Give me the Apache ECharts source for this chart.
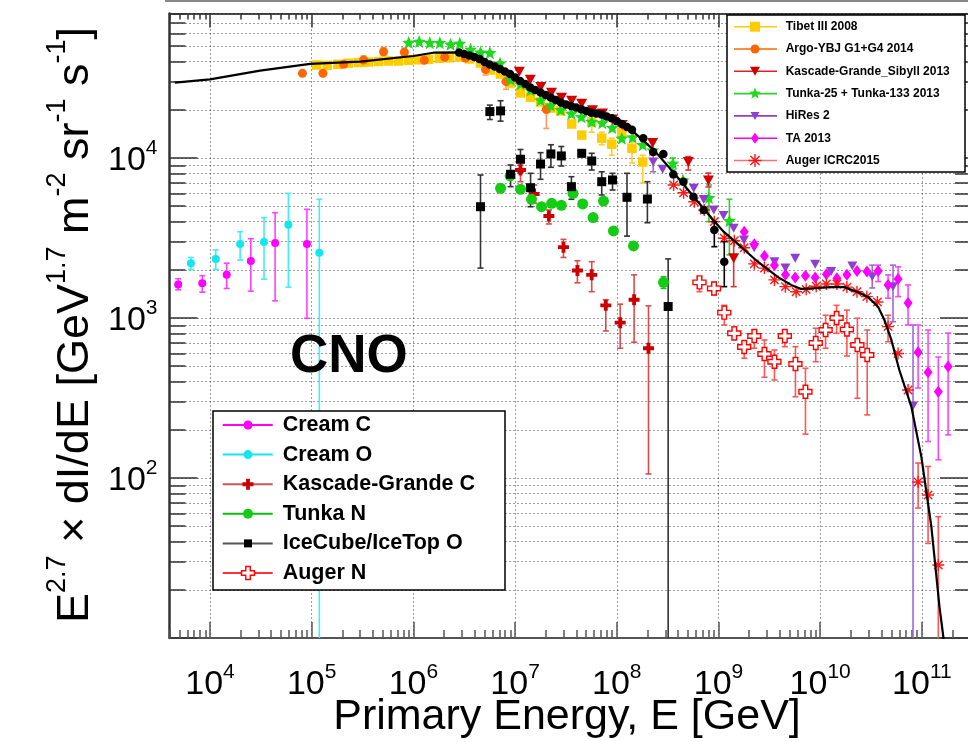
<!DOCTYPE html>
<html>
<head>
<meta charset="utf-8">
<title>CNO spectrum</title>
<script src="https://cdn.jsdelivr.net/npm/echarts@6.0.0/dist/echarts.min.js"></script>
<style>
html,body{margin:0;padding:0;background:#ffffff;}
#chart{width:968px;height:742px;}
</style>
</head>
<body>
<div id="chart"></div>
<script>
// ---------------- DATA: [E (GeV), E^2.7 dI/dE, errLow, errHigh] ----------------
const modelLine = [
  [4.52e3, 2.96e4], [1.0e4, 3.10e4], [3.11e4, 3.52e4], [9.66e4, 3.87e4], [3.0e5, 4.0e4],
  [1.0e6, 4.34e4], [1.57e6, 4.55e4], [2.71e6, 4.57e4], [4.57e6, 4.1e4], [7.2e6, 3.65e4],
  [9.66e6, 3.16e4], [1.33e7, 2.78e4], [1.91e7, 2.48e4], [2.81e7, 2.24e4], [4.42e7, 2.05e4],
  [6.95e7, 1.86e4], [1.02e8, 1.66e4], [1.47e8, 1.45e4], [2.32e8, 1.12e4], [3.65e8, 8.05e3],
  [5.74e8, 5.7e3], [9.04e8, 4.04e3], [1.13e9, 3.45e3], [1.67e9, 2.78e3], [2.45e9, 2.24e3],
  [3.85e9, 1.8e3], [5.18e9, 1.61e3], [6.5e9, 1.52e3], [9.55e9, 1.54e3], [1.28e10, 1.56e3],
  [1.72e10, 1.56e3], [2.37e10, 1.45e3], [2.97e10, 1.35e3], [3.72e10, 1.17e3], [4.28e10, 9.72e2],
  [5.01e10, 7.29e2], [6.0e10, 4.73e2], [7.89e10, 2.78e2], [9.89e10, 1.35e2], [1.24e11, 4.94e1],
  [1.49e11, 1.56e1], [1.63e11, 1.0e1], [1.7e11, 5]
];

const creamC = [
  [4.87e3, 1.62e3, 1.50e3, 1.76e3], [8.4e3, 1.65e3, 1.45e3, 1.84e3], [1.46e4, 1.86e3, 1.53e3, 2.2e3],
  [2.52e4, 2.27e3, 1.47e3, 3.13e3], [4.37e4, 2.94e3, 1.28e3, 4.55e3], [8.98e4, 2.9e3, 9.96e2, 4.78e3]
];

const creamO = [
  [6.5e3, 2.2e3, 2.01e3, 2.39e3], [1.14e4, 2.34e3, 2.01e3, 2.66e3], [1.98e4, 2.9e3, 2.3e3, 3.46e3],
  [3.4e4, 2.99e3, 1.75e3, 4.24e3], [5.9e4, 3.83e3, 1.56e3, 6.01e3], [1.19e5, 2.56e3, 1, 5.52e3]
];

const tibet = [
  [1.12e5, 3.81e4], [1.42e5, 3.79e4], [1.81e5, 3.85e4], [2.29e5, 3.91e4], [2.87e5, 3.95e4],
  [3.6e5, 3.98e4], [4.52e5, 4.01e4], [5.67e5, 4.04e4], [7.11e5, 4.04e4], [8.93e5, 4.08e4],
  [1.12e6, 4.11e4], [1.41e6, 4.14e4], [1.8e6, 4.2e4], [2.26e6, 4.23e4], [2.84e6, 4.28e4],
  [3.56e6, 4.16e4], [4.57e6, 3.92e4], [5.74e6, 3.55e4], [7.2e6, 3.35e4], [9.03e6, 2.94e4],
  [1.13e7, 2.55e4], [1.42e7, 2.4e4], [1.78e7, 2.24e4], [2.24e7, 2.05e4], [2.81e7, 1.97e4],
  [3.6e7, 1.63e4], [4.52e7, 1.39e4], [5.67e7, 1.68e4, 1.45e4, 1.73e4], [7.11e7, 1.33e4, 1.21e4, 1.45e4],
  [8.93e7, 1.22e4, 1.04e4, 1.33e4], [1.12e8, 1.45e4], [1.41e8, 1.15e4, 9.31e3, 1.26e4],
  [1.8e8, 9.44e3, 6.98e3, 1.04e4]
];

const argo = [
  [8.11e4, 3.38e4], [1.29e5, 3.38e4], [2.06e5, 3.85e4], [3.24e5, 4.1e4, 3.76e4, 4.34e4],
  [5.09e5, 4.61e4, 4.36e4, 4.9e4], [8.15e5, 4.58e4, 4.34e4, 4.87e4], [1.28e6, 4.08e4],
  [2.03e6, 4.26e4], [3.25e6, 4.22e4], [5.12e6, 3.57e4, 3.3e4, 3.73e4],
  [8.15e6, 3.0e4, 2.69e4, 3.22e4], [2.03e7, 2.01e4, 1.53e4, 2.11e4]
];

const tunka = [
  [9.0e5, 5.27e4], [1.14e6, 5.35e4], [1.45e6, 5.26e4], [1.82e6, 5.26e4], [2.32e6, 5.14e4],
  [2.86e6, 5.21e4], [3.65e6, 4.78e4], [4.57e6, 4.58e4], [5.65e6, 4.55e4], [7.11e6, 3.91e4],
  [9.03e6, 3.1e4], [1.13e7, 2.9e4], [1.42e7, 2.66e4], [1.78e7, 2.3e4], [2.24e7, 2.14e4],
  [2.81e7, 2.0e4], [3.58e7, 1.9e4], [4.49e7, 1.81e4], [5.67e7, 1.69e4], [7.2e7, 1.66e4],
  [9.03e7, 1.55e4], [1.12e8, 1.33e4], [1.43e8, 1.35e4], [1.8e8, 1.21e4], [2.26e8, 1.12e4],
  [3.56e8, 9.25e3, 8.41e3, 1.0e4], [4.47e8, 7.29e3], [8.05e8, 5.66e3, 4.0e3, 6.78e3],
  [1.28e9, 4.06e3, 2.48e3, 5.52e3]
];

const kgSibyll = [
  [1.1e7, 3.46e4], [1.41e7, 3.08e4], [1.79e7, 2.78e4], [2.28e7, 2.56e4], [2.86e7, 2.38e4],
  [3.6e7, 2.28e4], [4.52e7, 2.18e4], [5.77e7, 1.99e4], [7.23e7, 1.9e4], [9.08e7, 1.74e4],
  [1.13e8, 1.61e4], [2.25e8, 1.24e4], [5.05e8, 9.44e3, 8.41e3, 1.02e4],
  [7.96e8, 7.23e3, 6.59e3, 8.05e3], [1.41e9, 2.36e3, 1.57e3, 3.07e3]
];

const hires = [
  [2.28e8, 9.44e3, 8.2e3, 1.07e4], [2.82e8, 8.49e3], [5.71e8, 6.47e3], [7.15e8, 5.51e3],
  [8.99e8, 4.73e3], [1.12e9, 4.37e3], [1.41e9, 3.64e3], [1.78e9, 3.07e3], [2.24e9, 2.75e3],
  [3.55e9, 2.25e3], [4.55e9, 2.05e3], [5.68e9, 2.36e3], [8.93e9, 2.17e3], [1.28e10, 1.95e3],
  [2.07e10, 2.11e3], [3.25e10, 1.81e3, 1.54e3, 2.14e3], [5.2e10, 1.57e3, 9.48e2, 2.14e3],
  [8.18e10, 2.82e2, 1, 9.04e2]
];

const ta = [
  [1.79e9, 3.46e3], [2.25e9, 2.89e3], [2.83e9, 2.44e3], [3.55e9, 2.14e3], [4.55e9, 1.86e3],
  [5.68e9, 1.79e3], [7.16e9, 1.84e3], [8.93e9, 1.79e3], [1.15e10, 1.88e3], [1.46e10, 1.77e3],
  [1.83e10, 1.86e3], [2.3e10, 1.97e3], [2.88e10, 1.95e3], [3.71e10, 1.97e3, 1.69e3, 2.14e3],
  [4.65e10, 1.61e3, 1.33e3, 1.86e3], [5.83e10, 1.75e3, 1.36e3, 2.09e3],
  [7.31e10, 1.24e3, 9.04e2, 1.61e3], [9.18e10, 6.11e2, 3.65e2, 9.04e2],
  [1.15e11, 4.58e2, 1.69e2, 8.41e2], [1.45e11, 3.46e2, 1.3e2, 5.7e2], [1.81e11, 4.97e2, 1.86e2, 8.05e2]
];

const augerAll = [
  [3.62e8, 6.78e3], [4.54e8, 6.07e3], [5.78e8, 5.33e3], [7.24e8, 4.73e3], [9.1e8, 4.0e3],
  [1.14e9, 3.15e3], [1.43e9, 3.04e3], [1.79e9, 2.75e3], [2.25e9, 2.18e3], [2.83e9, 2.05e3],
  [3.55e9, 1.73e3], [4.55e9, 1.57e3], [5.8e9, 1.46e3], [7.28e9, 1.51e3], [9.14e9, 1.58e3],
  [1.15e10, 1.63e3], [1.46e10, 1.63e3], [1.83e10, 1.56e3], [2.3e10, 1.46e3], [2.88e10, 1.36e3],
  [3.65e10, 1.26e3], [4.65e10, 8.83e2, 7.11e2, 1.04e3], [5.83e10, 6.0e2], [7.31e10, 3.55e2],
  [9.18e10, 9.44e1, 6.49e1, 1.24e2], [1.15e11, 7.83e1, 3.9e1, 1.18e2], [1.45e11, 2.86e1, 1, 5.73e1]
];

const iceAll = [
  [2.82e6, 4.56e4], [3.16e6, 4.47e4], [3.55e6, 4.37e4], [3.98e6, 4.28e4], [4.47e6, 4.16e4],
  [5.01e6, 3.98e4], [5.62e6, 3.84e4], [6.31e6, 3.73e4], [7.08e6, 3.6e4], [7.94e6, 3.47e4],
  [8.91e6, 3.35e4], [1.0e7, 3.18e4], [1.12e7, 3.03e4], [1.26e7, 2.9e4], [1.41e7, 2.76e4],
  [1.58e7, 2.66e4], [1.78e7, 2.57e4], [2.0e7, 2.48e4], [2.24e7, 2.39e4], [2.51e7, 2.3e4],
  [2.82e7, 2.22e4], [3.16e7, 2.16e4], [3.55e7, 2.11e4], [3.98e7, 2.07e4], [4.47e7, 2.02e4],
  [5.01e7, 1.97e4], [5.62e7, 1.92e4], [6.31e7, 1.9e4], [7.08e7, 1.87e4], [7.94e7, 1.82e4],
  [8.91e7, 1.77e4], [1.0e8, 1.7e4], [1.12e8, 1.63e4], [1.26e8, 1.56e4], [1.41e8, 1.5e4],
  [1.82e8, 1.33e4], [2.28e8, 1.09e4], [2.87e8, 1.06e4], [3.6e8, 7.88e3], [4.52e8, 7.11e3],
  [5.67e8, 5.73e3], [7.15e8, 4.73e3], [9.1e8, 3.55e3, 2.79e3, 4.0e3], [1.14e9, 2.25e3, 1.57e3, 3.0e3]
];

const kgC = [
  [1.13e7, 8.41e3, 7.11e3, 9.04e3], [1.54e7, 5.96e3, 5.23e3, 6.78e3], [2.15e7, 4.34e3, 3.87e3, 4.73e3],
  [2.99e7, 2.77e3, 2.39e3, 3.1e3], [4.1e7, 1.98e3, 1.66e3, 2.28e3], [5.67e7, 1.86e3, 1.46e3, 2.25e3],
  [7.8e7, 1.2e3, 8.3e2, 1.3e3], [1.08e8, 9.35e2, 6.47e2, 1.22e3], [1.48e8, 1.3e3, 7.05e2, 1.86e3],
  [2.05e8, 6.47e2, 1.06e2, 1.19e3]
];

const tunkaN = [
  [7.2e6, 6.47e3], [8.93e6, 7.72e3], [1.13e7, 6.37e3], [1.45e7, 5.52e3], [1.82e7, 4.96e3],
  [2.29e7, 5.21e3], [2.85e7, 5.06e3], [3.71e7, 6.01e3], [4.62e7, 5.16e3], [5.85e7, 4.24e3],
  [7.4e7, 5.38e3], [9.27e7, 3.5e3], [1.46e8, 2.82e3], [2.88e8, 1.67e3, 1.53e3, 1.81e3]
];

const iceO = [
  [4.57e6, 4.96e3, 2.05e3, 7.83e3], [5.65e6, 1.95e4, 1.74e4, 2.14e4], [7.2e6, 1.97e4, 1.7e4, 2.28e4],
  [9.03e6, 7.91e3, 6.62e3, 9.04e3], [1.13e7, 9.82e3, 8.09e3, 1.13e4], [1.42e7, 6.52e3, 4.96e3, 8.02e3],
  [1.78e7, 9.17e3, 7.36e3, 1.08e4], [2.25e7, 1.06e4, 8.75e3, 1.21e4], [2.85e7, 1.03e4, 8.91e3, 1.18e4],
  [3.58e7, 6.62e3, 5.52e3, 7.64e3], [4.52e7, 1.07e4, 1.02e4, 1.12e4], [5.67e7, 9.58e3, 8.41e3, 1.07e4],
  [7.11e7, 7.11e3, 5.87e3, 8.2e3], [9.08e7, 7.29e3, 6.31e3, 8.02e3], [1.26e8, 5.68e3, 3.25e3, 8.02e3],
  [2.0e8, 5.54e3, 3.94e3, 7.11e3], [3.2e8, 1.18e3, 1, 2.34e3]
];

const augerN = [
  [6.5e8, 1.67e3, 1.46e3, 1.81e3], [9.04e8, 1.53e3, 1.4e3, 1.67e3], [1.14e9, 1.08e3, 9.04e2, 1.2e3],
  [1.43e9, 8.02e2, 7.3e2, 8.8e2], [1.79e9, 6.59e2, 5.6e2, 7.11e2], [2.25e9, 7.72e2, 6.47e2, 8.41e2],
  [2.83e9, 5.96e2, 4.26e2, 7.29e2], [3.55e9, 5.33e2, 4.1e2, 6.31e2], [4.49e9, 7.72e2, 6.62e2, 8.41e2],
  [5.71e9, 5.16e2, 3.22e2, 6.62e2], [7.16e9, 3.46e2, 1.88e2, 4.85e2], [9.04e9, 6.98e2, 5.33e2, 8.63e2],
  [1.13e10, 8.41e2, 6.47e2, 1.04e3], [1.45e10, 1.0e3, 8.02e2, 1.2e3], [1.83e10, 8.47e2, 5.79e2, 1.12e3],
  [2.32e10, 6.78e2, 3.15e2, 9.96e2], [2.9e10, 5.87e2, 2.48e2, 8.41e2]
];

// tick values
const xMajorTicks = [1e4, 1e5, 1e6, 1e7, 1e8, 1e9, 1e10, 1e11];
const yMajorTicks = [1e1, 1e2, 1e3, 1e4];
const yLabelTicks = [1e2, 1e3, 1e4];
const X_MIN = 4000, X_MAX = 2.84e11, Y_MIN = 10, Y_MAX = 8e4;

// ---------------- STYLE ----------------
const FONT = "'Liberation Sans', Arial, Helvetica, sans-serif";
const PATHS = {
  star: 'M0,-10 L2.6,-3.6 L9.5,-3.1 L4.2,1.4 L5.9,8.1 L0,4.4 L-5.9,8.1 L-4.2,1.4 L-9.5,-3.1 L-2.6,-3.6 Z',
  asterisk: 'M0,-10 L0,10 M-10,0 L10,0 M-7,-7 L7,7 M-7,7 L7,-7',
  cross: 'M-3.5,-10 L3.5,-10 L3.5,-3.5 L10,-3.5 L10,3.5 L3.5,3.5 L3.5,10 L-3.5,10 L-3.5,3.5 L-10,3.5 L-10,-3.5 L-3.5,-3.5 Z'
};
const POLYS = {
  tridown: [[-1, -1], [1, -1], [0, 1]],
  diamond: [[0, -1], [1, 0], [0, 1], [-1, 0]],
  star: [[0, -1], [0.26, -0.36], [0.95, -0.31], [0.42, 0.14], [0.59, 0.81], [0, 0.44], [-0.59, 0.81], [-0.42, 0.14], [-0.95, -0.31], [-0.26, -0.36]],
  cross: [[-0.35, -1], [0.35, -1], [0.35, -0.35], [1, -0.35], [1, 0.35], [0.35, 0.35], [0.35, 1], [-0.35, 1], [-0.35, 0.35], [-1, 0.35], [-1, -0.35], [-0.35, -0.35]]
};

function minorValues(nFrom, nTo, kFrom, lo, hi) {
  const out = [];
  for (let n = nFrom; n <= nTo; n++) {
    for (let k = kFrom; k <= 9; k++) {
      const v = k * Math.pow(10, n);
      if (v >= lo * 0.999 && v <= hi * 1.001) out.push(v);
    }
  }
  return out;
}
const xMinorTicks = minorValues(3, 11, 2, X_MIN, X_MAX);
const yAllTicks = minorValues(1, 4, 1, Y_MIN, Y_MAX);

const SERIES = [
  { name: 'Cream C', data: creamC, sym: 'circle', size: 8, color: '#ff00ff', err: '#ff40ff', ew: 1.6 },
  { name: 'Cream O', data: creamO, sym: 'circle', size: 8, color: '#12e6f0', err: '#40eef5', ew: 1.6 },
  { name: 'Tibet III 2008', data: tibet, sym: 'rect', size: 9.5, color: '#ffcc00', err: '#ffcc33', ew: 1.6 },
  { name: 'Argo-YBJ G1+G4 2014', data: argo, sym: 'circle', size: 9, color: '#ff6600', err: '#ff9966', ew: 1.6 },
  { name: 'Tunka-25 + Tunka-133 2013', data: tunka, sym: 'path://' + PATHS.star, size: 13, color: '#1ed81e', err: '#33cc33', ew: 1.6 },
  { name: 'Kascade-Grande_Sibyll 2013', data: kgSibyll, sym: 'triangle', rot: 180, size: [11, 10], color: '#d40000', err: '#dd3333', ew: 1.6 },
  { name: 'HiRes 2', data: hires, sym: 'triangle', rot: 180, size: [10, 9], color: '#8f3fd0', err: '#a466d8', ew: 1.6 },
  { name: 'TA 2013', data: ta, sym: 'diamond', size: [9, 12], color: '#ff00ff', err: '#ff44ff', ew: 1.6 },
  { name: 'Auger ICRC2015', data: augerAll, sym: 'path://' + PATHS.asterisk, size: 12, color: 'rgba(0,0,0,0)', border: '#ff1818', bw: 1.4, err: '#ff5555', ew: 1.6 },
  { name: 'Kascade-Grande C', data: kgC, sym: 'path://' + PATHS.cross, size: 11, color: '#cc0000', err: '#dd4a4a', ew: 1.6 },
  { name: 'Tunka N', data: tunkaN, sym: 'circle', size: 11, color: '#14cc14', err: '#22bb22', ew: 1.6 },
  { name: 'IceCube/IceTop O', data: iceO, sym: 'rect', size: 9, color: '#000000', err: '#333333', ew: 1.6 },
  { name: 'Auger N', data: augerN, sym: 'path://' + PATHS.cross, size: 13, color: '#ffffff', border: '#ff0000', bw: 1.4, err: '#ff5555', ew: 1.6 },
  { name: 'IceTop all-particle', data: iceAll, sym: 'circle', size: 8.5, color: '#000000', err: '#000000', ew: 1.6, z: 6 }
];

function errRender(color, width, cap) {
  return function (params, api) {
    const cs = params.coordSys;
    const x = api.value(0);
    const pHi = api.coord([x, api.value(2)]);
    const pLo = api.coord([x, api.value(1)]);
    const top = cs.y, bot = cs.y + cs.height;
    let y1 = pHi[1], y2 = pLo[1];
    const capTop = y1 >= top - 0.5, capBot = y2 <= bot + 0.5;
    y1 = Math.max(y1, top); y2 = Math.min(y2, bot);
    const st = { stroke: color, lineWidth: width };
    const ch = [{ type: 'line', shape: { x1: pHi[0], y1: y1, x2: pHi[0], y2: y2 }, style: st }];
    if (capTop) ch.push({ type: 'line', shape: { x1: pHi[0] - cap, y1: y1, x2: pHi[0] + cap, y2: y1 }, style: st });
    if (capBot) ch.push({ type: 'line', shape: { x1: pHi[0] - cap, y1: y2, x2: pHi[0] + cap, y2: y2 }, style: st });
    return { type: 'group', children: ch };
  };
}

const series = [];
SERIES.forEach(function (s) {
  const errData = s.data.filter(d => d.length >= 4).map(d => [d[0], d[2], d[3]]);
  if (errData.length) {
    series.push({
      type: 'custom', name: s.name + ' err', data: errData, silent: true,
      encode: { x: 0, y: [1, 2] }, z: (s.z || 3) - 1,
      renderItem: errRender(s.err, s.ew, 3)
    });
  }
  series.push({
    type: 'scatter', name: s.name, data: s.data.map(d => [d[0], d[1]]),
    symbol: s.sym, symbolSize: s.size, symbolRotate: s.rot || 0, silent: true,
    itemStyle: { color: s.color, borderColor: s.border || s.color, borderWidth: s.bw || 0, opacity: 1 },
    z: s.z || 3
  });
});
series.push({
  type: 'line', name: 'model', data: modelLine, showSymbol: false, symbol: 'none', silent: true,
  lineStyle: { color: '#000', width: 2.2 }, z: 5, clip: true
});

// ---------------- axes ----------------
const tickRich = {
  b: { fontSize: 34, fontFamily: FONT, color: '#000', lineHeight: 40, verticalAlign: 'bottom' },
  s: { fontSize: 21, fontFamily: FONT, color: '#000', lineHeight: 24, verticalAlign: 'top' }
};
const expLabel = v => '{b|10}{s|' + Math.round(Math.log10(v)) + '}';
const dotted = { color: '#3a3a3a', type: [1, 3], width: 1 };

function logAxis(extra, min, max) {
  return Object.assign({
    type: 'log', logBase: 10, min: min, max: max,
    axisLine: { show: false }, axisTick: { show: false }, axisLabel: { show: false },
    splitLine: { show: false }, minorTick: { show: false }, minorSplitLine: { show: false }
  }, extra);
}

const xAxis = [
  logAxis({
    position: 'bottom',
    axisLine: { show: true, lineStyle: { color: '#555', width: 2 } },
    axisTick: { show: true, inside: true, length: 16, customValues: xMajorTicks, lineStyle: { color: '#555', width: 1.5 } },
    axisLabel: { show: true, customValues: xMajorTicks, formatter: expLabel, rich: tickRich, margin: 24, hideOverlap: false },
    splitLine: { show: true, lineStyle: dotted }
  }, X_MIN, X_MAX),
  logAxis({
    position: 'bottom',
    axisTick: { show: true, inside: true, length: 8, customValues: xMinorTicks, lineStyle: { color: '#555', width: 1.5 } }
  }, X_MIN, X_MAX),
  logAxis({
    position: 'top',
    axisLine: { show: true, lineStyle: { color: '#111', width: 1.5 } },
    axisTick: { show: true, inside: true, length: 14, customValues: xMajorTicks, lineStyle: { color: '#333', width: 1.5 } }
  }, X_MIN, X_MAX),
  logAxis({
    position: 'top',
    axisTick: { show: true, inside: true, length: 6, customValues: xMinorTicks, lineStyle: { color: '#333', width: 1.5 } }
  }, X_MIN, X_MAX)
];

const yAxis = [
  logAxis({
    position: 'left',
    axisLine: { show: true, lineStyle: { color: '#333', width: 2.5 } },
    axisTick: { show: true, inside: true, length: 28, customValues: yMajorTicks, lineStyle: { color: '#333', width: 1.5 } },
    axisLabel: { show: true, customValues: yLabelTicks, formatter: expLabel, rich: tickRich, margin: 12, hideOverlap: false }
  }, Y_MIN, Y_MAX),
  logAxis({
    position: 'left',
    axisTick: { show: true, inside: true, length: 16, customValues: yAllTicks, lineStyle: { color: '#333', width: 1.5 } },
    splitLine: { show: true, lineStyle: dotted }
  }, Y_MIN, Y_MAX),
  logAxis({
    position: 'right',
    axisTick: { show: true, inside: true, length: 28, customValues: yMajorTicks, lineStyle: { color: '#333', width: 1.5 } }
  }, Y_MIN, Y_MAX),
  logAxis({
    position: 'right',
    axisTick: { show: true, inside: true, length: 13, customValues: yAllTicks, lineStyle: { color: '#333', width: 1.5 } }
  }, Y_MIN, Y_MAX)
];

// ---------------- legends (graphic) ----------------
const topLegend = [
  { name: 'Tibet III 2008', line: '#ffcc00', sym: 'square', w: 10, h: 10, fill: '#ffcc00' },
  { name: 'Argo-YBJ G1+G4 2014', line: '#ff6600', sym: 'circle', w: 9, h: 9, fill: '#ff6600' },
  { name: 'Kascade-Grande_Sibyll 2013', line: '#dd2222', sym: 'tridown', w: 10, h: 9, fill: '#cc0000' },
  { name: 'Tunka-25 + Tunka-133 2013', line: '#33cc33', sym: 'star', w: 12, h: 12, fill: '#1ed81e' },
  { name: 'HiRes 2', line: '#8f3fd0', sym: 'tridown', w: 9, h: 8, fill: '#8f3fd0' },
  { name: 'TA 2013', line: '#ff00ff', sym: 'diamond', w: 8, h: 11, fill: '#ff00ff' },
  { name: 'Auger ICRC2015', line: '#ff7070', sym: 'asterisk', w: 13, h: 13, fill: 'none', stroke: '#ff1010' }
];
const bottomLegend = [
  { name: 'Cream C', line: '#ff00ff', sym: 'circle', w: 9, h: 9, fill: '#ff00ff' },
  { name: 'Cream O', line: '#12e6f0', sym: 'circle', w: 9, h: 9, fill: '#12e6f0' },
  { name: 'Kascade-Grande C', line: '#cc5555', sym: 'cross', w: 11, h: 11, fill: '#cc0000' },
  { name: 'Tunka N', line: '#11bb11', sym: 'circle', w: 10, h: 10, fill: '#14cc14' },
  { name: 'IceCube/IceTop O', line: '#555555', sym: 'square', w: 8, h: 8, fill: '#000000' },
  { name: 'Auger N', line: '#ff3333', sym: 'cross', w: 13, h: 13, fill: '#ffffff', stroke: '#ff0000' }
];

function markerEls(it, cx, cy, Z) {
  const st = { fill: it.fill, stroke: it.stroke || null, lineWidth: it.stroke ? 1.4 : 0 };
  const hw = it.w / 2, hh = it.h / 2;
  if (it.sym === 'square') {
    return [{ type: 'rect', z: Z, shape: { x: cx - hw, y: cy - hh, width: it.w, height: it.h }, style: st }];
  }
  if (it.sym === 'circle') {
    return [{ type: 'circle', z: Z, shape: { cx: cx, cy: cy, r: hw }, style: st }];
  }
  if (it.sym === 'asterisk') {
    const s = { stroke: it.stroke, lineWidth: 1.4 };
    const d = 0.7;
    return [
      { type: 'line', z: Z, shape: { x1: cx, y1: cy - hh, x2: cx, y2: cy + hh }, style: s },
      { type: 'line', z: Z, shape: { x1: cx - hw, y1: cy, x2: cx + hw, y2: cy }, style: s },
      { type: 'line', z: Z, shape: { x1: cx - hw * d, y1: cy - hh * d, x2: cx + hw * d, y2: cy + hh * d }, style: s },
      { type: 'line', z: Z, shape: { x1: cx - hw * d, y1: cy + hh * d, x2: cx + hw * d, y2: cy - hh * d }, style: s }
    ];
  }
  const pts = POLYS[it.sym].map(p => [cx + p[0] * hw, cy + p[1] * hh]);
  return [{ type: 'polygon', z: Z, shape: { points: pts }, style: st }];
}

function buildLegend(items, L) {
  const Z = 100;
  let ch = [{ type: 'rect', z: Z, shape: { x: L.x, y: L.y, width: L.w, height: L.h },
    style: { fill: '#fff', stroke: '#000', lineWidth: 1.5 } }];
  items.forEach(function (it, i) {
    const cy = L.y + L.y0 + i * L.dy;
    ch.push({ type: 'line', z: Z + 1, shape: { x1: L.x + L.lx1, y1: cy, x2: L.x + L.lx2, y2: cy },
      style: { stroke: it.line, lineWidth: L.lw } });
    ch = ch.concat(markerEls(it, L.x + L.mx, cy, Z + 2));
    ch.push({ type: 'text', z: Z + 2, x: L.x + L.tx, y: cy,
      style: { text: it.name, fontSize: L.fs, fontWeight: 'bold', fontFamily: FONT, fill: '#000',
        align: 'left', verticalAlign: 'middle' } });
  });
  return ch;
}

const graphicEls = [].concat(
  [{ type: 'line', z: 1, shape: { x1: 165, y1: 1, x2: 968, y2: 1 }, style: { stroke: '#888', lineWidth: 2 } }],
  buildLegend(topLegend, { x: 727, y: 15, w: 238, h: 157, y0: 11.7, dy: 22.3, lx1: 7, lx2: 50, mx: 28, tx: 58.7, fs: 12, lw: 1.6 }),
  buildLegend(bottomLegend, { x: 213, y: 411, w: 292, h: 179, y0: 14, dy: 29.6, lx1: 9.7, lx2: 59.7, mx: 35, tx: 69.7, fs: 21.5, lw: 2 }),
  [
    { type: 'text', z: 100, x: 290, y: 357,
      style: { text: 'CNO', fontSize: 53, fontWeight: 'bold', fontFamily: FONT, fill: '#000', align: 'left', verticalAlign: 'middle' } },
    { type: 'text', z: 100, x: 567, y: 717,
      style: { text: 'Primary Energy, E [GeV]', fontSize: 43, fontFamily: FONT, fill: '#000', align: 'center', verticalAlign: 'middle' } },
    { type: 'text', z: 100, x: 71, y: 325, rotation: Math.PI / 2,
      style: {
        text: '{n|E}{s|2.7}{n| \u00d7 dI/dE [GeV}{s|1.7}{n| m}{s|-2}{n| sr}{s|-1}{n| s}{s|-1}{n|]}',
        align: 'center', verticalAlign: 'middle', fill: '#000',
        rich: {
          n: { fontSize: 45, fontFamily: FONT, fill: '#000', lineHeight: 54, verticalAlign: 'bottom' },
          s: { fontSize: 27, fontFamily: FONT, fill: '#000', lineHeight: 31, verticalAlign: 'top' }
        }
      } }
  ]
);

const option = {
  animation: false,
  backgroundColor: '#ffffff',
  grid: { left: 169.5, top: 13.5, width: 798.5, height: 624.5, containLabel: false, outerBoundsMode: 'none', show: false },
  xAxis: xAxis,
  yAxis: yAxis,
  series: series,
  graphic: { elements: graphicEls }
};

const chart = echarts.init(document.getElementById('chart'), null, { renderer: 'canvas' });
chart.setOption(option);
</script>
</body>
</html>
